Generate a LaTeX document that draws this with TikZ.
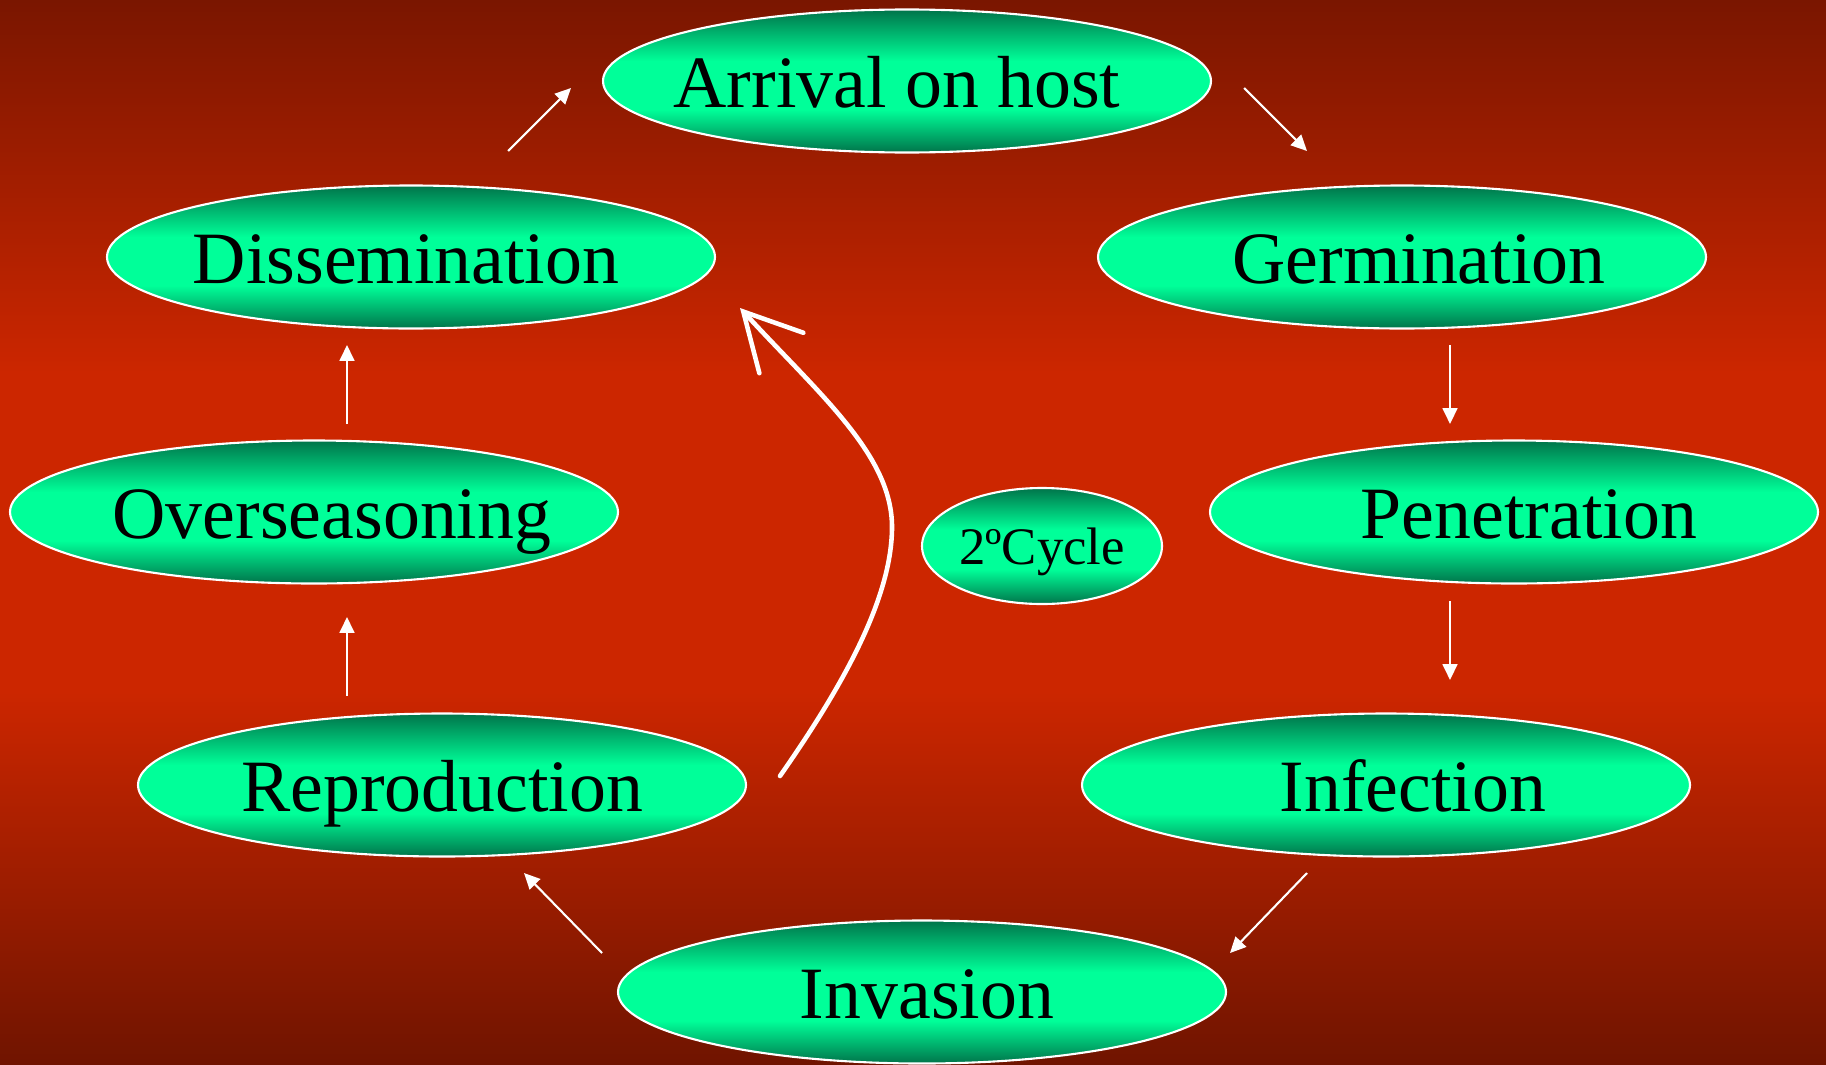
\documentclass[tikz,border=0pt]{standalone}
\usepackage{fontspec}
\setmainfont{Liberation Serif}
\usetikzlibrary{shapes.geometric,arrows.meta}

\definecolor{slidetop}{RGB}{122,22,0}
\definecolor{slidemid}{RGB}{204,38,0}
\definecolor{slidebot}{RGB}{112,20,0}
\definecolor{ovaldark}{RGB}{0,116,74}
\definecolor{ovallight}{RGB}{0,255,153}
\pgfdeclareverticalshading{slideshade}{100bp}{color(0bp)=(slidebot); color(25bp)=(slidebot); color(42.5bp)=(slidemid); color(57.5bp)=(slidemid); color(75bp)=(slidetop); color(100bp)=(slidetop)}
\pgfdeclareverticalshading{ovalshade}{100bp}{color(0bp)=(ovaldark); color(25bp)=(ovaldark); color(40bp)=(ovallight); color(57bp)=(ovallight); color(75bp)=(ovaldark); color(100bp)=(ovaldark)}

\begin{document}
\begin{tikzpicture}[x=0.1mm, y=-0.1mm,
  stage/.style = {ellipse, draw=white, line width=0.6pt, shading=ovalshade,
    minimum width=60.8mm, minimum height=14.3mm, inner xsep=-3mm, inner ysep=0pt,
    text height=18pt, text depth=3pt, font=\fontsize{21}{25}\selectfont},
  cyclebox/.style = {stage, minimum width=24mm, minimum height=11.6mm,
    text height=13pt, text depth=2.2pt, font=\fontsize{15}{18}\selectfont},
  link/.style = {white, line width=0.6pt, -{Triangle[length=4.5pt, width=4.2pt]}},
  back/.style = {white, line width=1.3pt, line cap=round,
    -{Straight Barb[length=16pt, width=17pt, line cap=round]}}]
\shade[shading=slideshade] (0,0) rectangle (1826,1064);
\useasboundingbox (0,0) rectangle (1826,1064);

\node[stage] (Arr) at (907,81) {Arrival on host\hspace*{2mm}};
\node[stage] (Dis) at (411,257) {Dissemination\hspace*{1mm}};
\node[stage] (Ger) at (1402,257) {\hspace*{3.4mm}Germination};
\node[stage] (Ove) at (314,512) {\hspace*{3.6mm}Overseasoning};
\node[stage] (Pen) at (1514,512) {\hspace*{3mm}Penetration};
\node[stage] (Rep) at (442,785) {Reproduction};
\node[stage] (Inf) at (1386,785) {\hspace*{5.4mm}Infection};
\node[stage] (Inv) at (922,992) {\hspace*{1mm}Invasion};
\node[cyclebox] (Cyc) at (1042,546) {2ºCycle};

\coordinate (a1) at (508,151); \coordinate (b1) at (571,88);
\coordinate (a2) at (1244,88); \coordinate (b2) at (1307,151);
\coordinate (a3) at (1450,345); \coordinate (b3) at (1450,424);
\coordinate (a4) at (1450,601); \coordinate (b4) at (1450,680);
\coordinate (a5) at (1307,873); \coordinate (b5) at (1230,953);
\coordinate (a6) at (602,953); \coordinate (b6) at (524,873);
\coordinate (a7) at (347,696); \coordinate (b7) at (347,617);
\coordinate (a8) at (347,424); \coordinate (b8) at (347,345);
\foreach \i in {1,...,8}
  \draw[link] (a\i) -- (b\i);

\coordinate (c1) at (780,776);
\coordinate (c2) at (740,308);
\draw[back] (c1) .. controls (840,690) and (892,600) .. (892,527)
  .. controls (892,455) and (820,395) .. (c2);
\end{tikzpicture}
\end{document}
